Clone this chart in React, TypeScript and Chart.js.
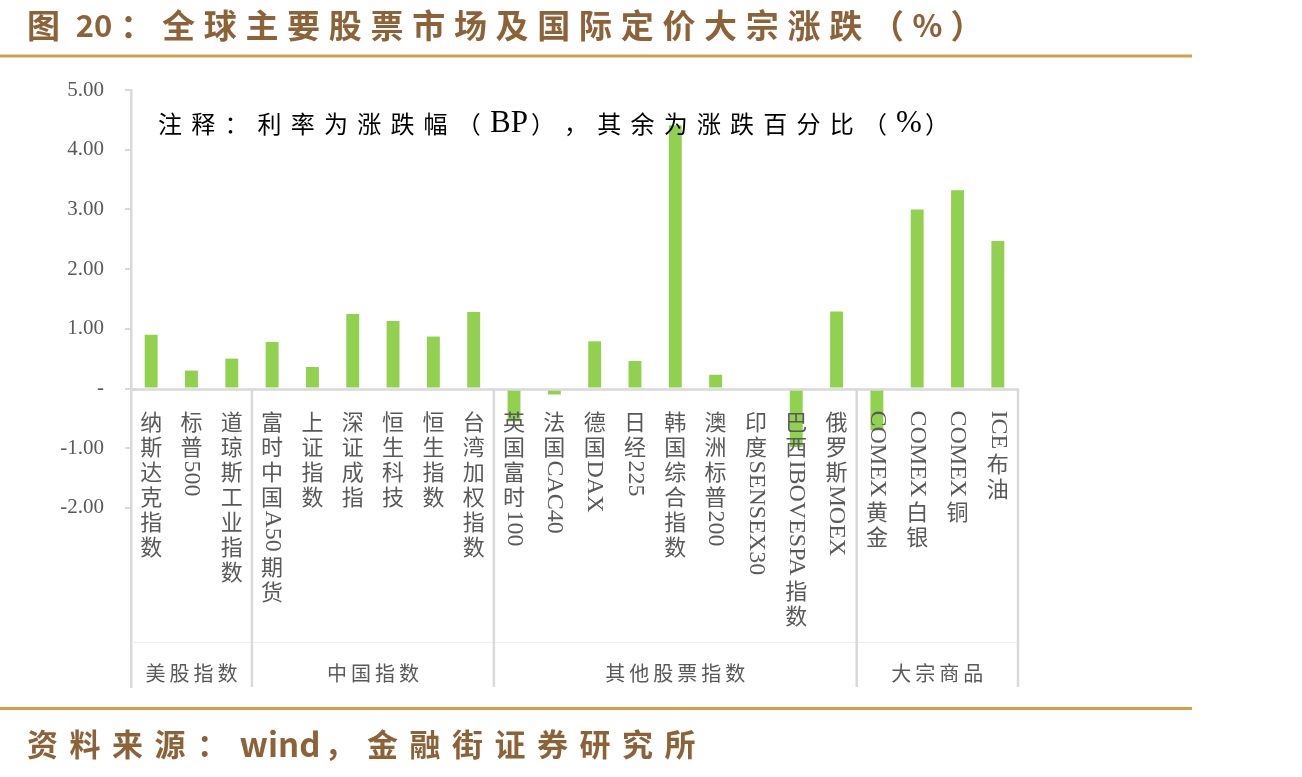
import React, { useEffect, useRef } from 'react';
import { Chart, registerables } from 'chart.js';

Chart.register(...registerables);

const TITLE = '图 20：全球主要股票市场及国际定价大宗涨跌（%）';
const NOTE = '注释：利率为涨跌幅（BP），其余为涨跌百分比（%）';
const SOURCE = '资料来源：wind，金融街证券研究所';

const categories = [
  '纳斯达克指数', '标普500', '道琼斯工业指数',
  '富时中国A50期货', '上证指数', '深证成指', '恒生科技', '恒生指数', '台湾加权指数',
  '英国富时100', '法国CAC40', '德国DAX', '日经225', '韩国综合指数', '澳洲标普200', '印度SENSEX30', '巴西IBOVESPA指数', '俄罗斯MOEX',
  'COMEX黄金', 'COMEX白银', 'COMEX铜', 'ICE布油',
];

const changes = [
  0.90, 0.30, 0.50,
  0.78, 0.36, 1.25, 1.13, 0.87, 1.28,
  -0.55, -0.10, 0.79, 0.46, 4.41, 0.23, 0, -0.98, 1.29,
  -0.70, 3.00, 3.32, 2.47,
];

const groupNames = ['美股指数', '中国指数', '其他股票指数', '大宗商品'];
const groupSizes = [3, 6, 9, 4];

const yMin = -5;
const yMax = 5;
const yLowestLabel = -2;

const GRID = '#d9d9d9';
const TEXT = '#595959';
const BROWN = '#8C6239';
const GOLD = '#D2A048';
const CJK = '"Noto Sans CJK SC", sans-serif';
const SERIF = '"Liberation Serif", "Noto Sans CJK SC", serif';

function drawMixed(
  ctx: CanvasRenderingContext2D,
  text: string,
  x0: number,
  y: number,
  cjkFont: string,
  latinFont: string,
  spacing: number,
  latinGap: number,
) {
  const runs = text.match(/[\x20-\x7E]+|./gu) || [];
  let x = x0;
  ctx.textAlign = 'left';
  ctx.textBaseline = 'middle';
  for (const r of runs) {
    if (/^[\x20-\x7E]+$/.test(r)) {
      ctx.font = latinFont;
      ctx.fillText(r, x, y);
      x += ctx.measureText(r).width + latinGap;
    } else {
      ctx.font = cjkFont;
      ctx.fillText(r, x, y);
      x += ctx.measureText(r).width + spacing;
    }
  }
}

function drawVertical(ctx: CanvasRenderingContext2D, text: string, cx: number, yStart: number) {
  const runs = text.match(/[A-Za-z0-9]+|./g) || [];
  let y = yStart;
  const step = 25;
  for (const r of runs) {
    if (/^[A-Za-z0-9]+$/.test(r)) {
      ctx.font = '24px ' + SERIF;
      const w = ctx.measureText(r).width;
      ctx.save();
      ctx.translate(cx, y + 1);
      ctx.rotate(Math.PI / 2);
      ctx.textAlign = 'left';
      ctx.textBaseline = 'middle';
      ctx.fillText(r, 0, 0);
      ctx.restore();
      y += w + 3;
    } else {
      ctx.font = '22px ' + CJK;
      ctx.textAlign = 'center';
      ctx.textBaseline = 'middle';
      ctx.fillText(r, cx, y + step / 2);
      y += step;
    }
  }
}

const overlay = {
  id: 'overlay',
  afterDatasetsDraw(chart: any) {
    const ctx: CanvasRenderingContext2D = chart.ctx;
    const xs = chart.scales.x;
    const ys = chart.scales.y;
    const area = chart.chartArea;
    const y0 = ys.getPixelForValue(0);
    const n = categories.length;
    const half = (xs.getPixelForValue(1) - xs.getPixelForValue(0)) / 2;

    ctx.save();
    ctx.strokeStyle = '#eeeeee';
    ctx.lineWidth = 1;
    ctx.beginPath();
    ctx.moveTo(area.left, 642.5);
    ctx.lineTo(area.right, 642.5);
    ctx.stroke();

    ctx.strokeStyle = GRID;
    ctx.lineWidth = 2.5;
    ctx.beginPath();
    ctx.moveTo(area.left, y0 + 1);
    ctx.lineTo(area.right, y0 + 1);
    ctx.stroke();
    ctx.beginPath();
    ctx.moveTo(area.left, y0 + 1);
    ctx.lineTo(area.left + 6, y0 + 1);
    ctx.stroke();

    let idx = 0;
    const bounds: number[] = [area.left];
    for (const s of groupSizes) {
      idx += s;
      bounds.push(idx >= n ? area.right : xs.getPixelForValue(idx) - half);
    }
    ctx.lineWidth = 2.5;
    for (let i = 1; i < bounds.length; i++) {
      ctx.beginPath();
      ctx.moveTo(bounds[i], y0);
      ctx.lineTo(bounds[i], area.bottom);
      ctx.stroke();
    }

    ctx.fillStyle = TEXT;
    categories.forEach((c, i) => {
      drawVertical(ctx, c, xs.getPixelForValue(i), y0 + 21);
    });

    ctx.font = '20px ' + CJK;
    ctx.textAlign = 'center';
    ctx.textBaseline = 'middle';
    (ctx as any).letterSpacing = '4px';
    groupNames.forEach((g, i) => {
      const cx = (bounds[i] + bounds[i + 1]) / 2 + 2;
      ctx.fillText(g, cx, 673);
    });
    (ctx as any).letterSpacing = '0px';
    ctx.restore();
  },
  afterDraw(chart: any) {
    const ctx: CanvasRenderingContext2D = chart.ctx;
    ctx.save();
    ctx.fillStyle = BROWN;
    drawMixed(ctx, TITLE, 27, 25, 'bold 33px ' + CJK, 'bold 31px ' + CJK, 8.7, 8);
    drawMixed(ctx, SOURCE, 27, 744, 'bold 31px ' + CJK, 'bold 33px ' + CJK, 11.5, 4);

    ctx.strokeStyle = GOLD;
    ctx.lineWidth = 3;
    ctx.beginPath();
    ctx.moveTo(0, 56);
    ctx.lineTo(1192, 56);
    ctx.stroke();
    ctx.beginPath();
    ctx.moveTo(0, 708.5);
    ctx.lineTo(1192, 708.5);
    ctx.stroke();

    ctx.fillStyle = '#000000';
    drawMixed(ctx, NOTE, 158, 124, '24px ' + CJK, '31px ' + SERIF, 9.2, 3);
    ctx.restore();
  },
};

export default function App() {
  const ref = useRef<HTMLCanvasElement>(null);
  useEffect(() => {
    const chart = new Chart(ref.current as HTMLCanvasElement, {
      type: 'bar',
      data: {
        labels: categories,
        datasets: [
          {
            data: changes,
            backgroundColor: '#92D050',
            borderWidth: 0,
            barPercentage: 0.32,
            categoryPercentage: 1,
          },
        ],
      },
      options: {
        responsive: false,
        animation: false,
        devicePixelRatio: 1,
        layout: { padding: { left: 0, top: 90, right: 284, bottom: 90 } },
        plugins: { legend: { display: false }, tooltip: { enabled: false } },
        scales: {
          x: { display: false },
          y: {
            min: yMin,
            max: yMax,
            afterFit: (scale: any) => {
              scale.width = 131;
            },
            border: { display: true, color: GRID, width: 2.5 },
            grid: {
              drawOnChartArea: false,
              drawTicks: true,
              tickLength: 6,
              color: (c: any) => (c.tick && c.tick.value < yLowestLabel ? 'rgba(0,0,0,0)' : GRID),
              lineWidth: 2,
            },
            ticks: {
              stepSize: 1,
              padding: 21,
              color: TEXT,
              font: { family: SERIF, size: 21 },
              callback: (v: any) => {
                const n = Number(v);
                if (n < yLowestLabel) return '';
                if (n === 0) return '-';
                return n.toFixed(2);
              },
            },
          },
        },
      },
      plugins: [overlay],
    });
    return () => chart.destroy();
  }, []);
  return (
    <div style={{ position: 'absolute', left: 0, top: 0, width: 1302, height: 777, background: '#ffffff' }}>
      <canvas ref={ref} width={1302} height={777} style={{ display: 'block' }} />
    </div>
  );
}
